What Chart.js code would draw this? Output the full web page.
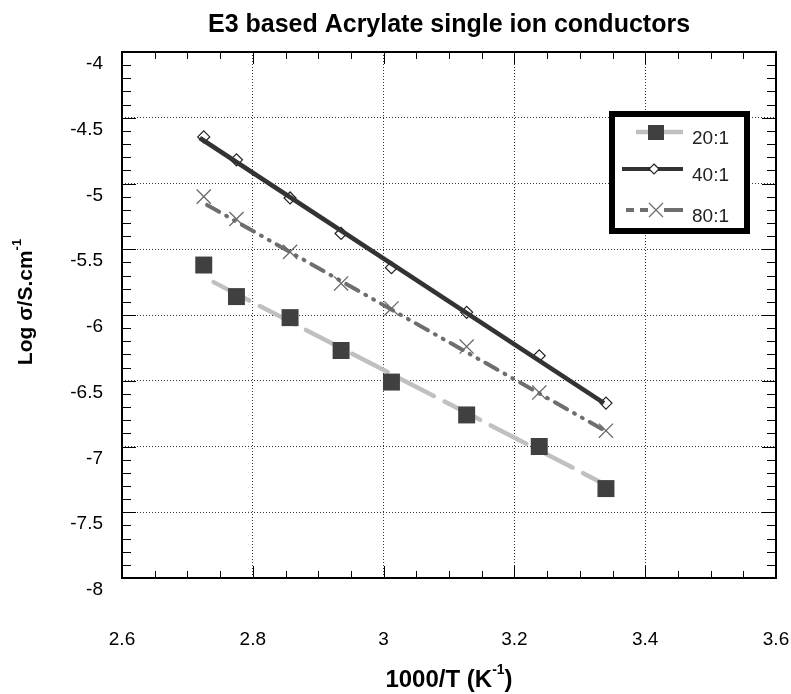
<!DOCTYPE html>
<html lang="en">
<head>
<meta charset="UTF-8" />
<title>E3 based Acrylate single ion conductors</title>
<style>
  html, body { margin: 0; padding: 0; background: #fff; }
  #wrap { width: 791px; height: 694px; }
</style>
</head>
<body>
<div id="wrap"><canvas id="chart" width="791" height="694"></canvas></div>

<script src="https://cdn.jsdelivr.net/npm/chart.js"></script>
<script>
  // values
  const invTemp = [2.725, 2.775, 2.857, 2.935, 3.012, 3.127, 3.238, 3.34];
  const logSigma20 = [-5.62, -5.86, -6.02, -6.27, -6.51, -6.76, -7.00, -7.32];
  const logSigma40 = [-4.646, -4.82, -5.11, -5.38, -5.64, -5.98, -6.31, -6.67];
  const logSigma80 = [-5.10, -5.27, -5.52, -5.76, -5.95, -6.24, -6.59, -6.88];

  // straight trend lines drawn through each set (end points)
  const fitX20 = [2.74, 3.343], fitY20 = [-5.75, -7.30];
  const fitX40 = [2.719, 3.337], fitY40 = [-4.654, -6.67];
  const fitX80 = [2.730, 3.342], fitY80 = [-5.163, -6.89];

  const seriesNames = ['20:1', '40:1', '80:1'];
  const xTicks = [2.6, 3.6, 0.2, 0.05];   // min, max, major step, minor step
  const yTicks = [-8, -4, 0.5, 0.1];

  const FONT = "'Liberation Sans', Arial, Helvetica, sans-serif";
  Chart.defaults.font.family = FONT;

  const toPts = (xs, ys) => xs.map((x, i) => ({ x: x, y: ys[i] }));
  const fmt = v => String(+v.toFixed(2));

  const dash20 = [40, 12];
  const dash80 = [14, 8, 1, 8, 1, 8];

  // draws text with superscript parts, centred on (0,0) of the current transform
  function drawSupText(ctx, parts, size) {
    const big = 'bold ' + size + 'px ' + FONT;
    const small = 'bold ' + Math.round(size * 0.6) + 'px ' + FONT;
    let total = 0;
    parts.forEach(p => { ctx.font = p[1] ? small : big; total += ctx.measureText(p[0]).width; });
    let cx = -total / 2;
    ctx.textAlign = 'left';
    ctx.textBaseline = 'middle';
    parts.forEach(p => {
      ctx.font = p[1] ? small : big;
      ctx.fillText(p[0], cx, p[1] ? -size * 0.4 : 0);
      cx += ctx.measureText(p[0]).width;
    });
  }

  const framePlugin = {
    id: 'frame',
    afterDatasetsDraw(chart) {
      const { ctx, chartArea: a, scales: { x, y } } = chart;
      ctx.save();
      ctx.strokeStyle = '#000';
      ctx.lineWidth = 1;
      ctx.beginPath();
      const nx = Math.round((xTicks[1] - xTicks[0]) / xTicks[3]);
      for (let i = 0; i <= nx; i++) {
        const px = Math.round(x.getPixelForValue(xTicks[0] + i * xTicks[3])) + 0.5;
        const len = i % 4 === 0 ? 12 : 7;
        ctx.moveTo(px, a.bottom); ctx.lineTo(px, a.bottom - len);
        ctx.moveTo(px, a.top); ctx.lineTo(px, a.top + len);
      }
      const ny = Math.round((yTicks[1] - yTicks[0]) / yTicks[3]);
      for (let i = 0; i <= ny; i++) {
        const py = Math.round(y.getPixelForValue(yTicks[0] + i * yTicks[3])) + 0.5;
        const len = i % 5 === 0 ? 14 : 9;
        ctx.moveTo(a.left, py); ctx.lineTo(a.left + len, py);
        ctx.moveTo(a.right, py); ctx.lineTo(a.right - len, py);
      }
      ctx.stroke();
      ctx.lineWidth = 2;
      ctx.strokeRect(a.left, a.top, a.right - a.left, a.bottom - a.top);
      ctx.restore();
    },
    afterDraw(chart) {
      const { ctx, chartArea: a } = chart;
      ctx.save();
      ctx.fillStyle = '#000';

      // chart title, centred over the plot area
      ctx.font = 'bold 25px ' + FONT;
      ctx.textAlign = 'center';
      ctx.textBaseline = 'middle';
      ctx.fillText('E3 based Acrylate single ion conductors', (a.left + a.right) / 2, 25);

      // axis titles
      ctx.save();
      ctx.translate((a.left + a.right) / 2, 680);
      drawSupText(ctx, [['1000/T (K', false], ['-1', true], [')', false]], 24);
      ctx.restore();

      ctx.save();
      ctx.translate(26, 302);
      ctx.rotate(-Math.PI / 2);
      drawSupText(ctx, [['Log \u03c3/S.cm', false], ['-1', true]], 21);
      ctx.restore();

      // legend box
      const L = 609, T = 111, R = 750, B = 234;
      ctx.fillStyle = '#fff';
      ctx.fillRect(L, T, R - L, B - T);
      ctx.strokeStyle = '#000';
      ctx.lineWidth = 6;
      ctx.strokeRect(L + 3, T + 3, R - L - 6, B - T - 6);

      const rows = [132, 169, 210];
      const x0 = 636, x1 = 683, mx = 656;

      // 20:1
      ctx.lineWidth = 4.5;
      ctx.strokeStyle = '#c0c0c0';
      ctx.beginPath(); ctx.moveTo(x0, rows[0]); ctx.lineTo(x1, rows[0]); ctx.stroke();
      ctx.fillStyle = '#404040';
      ctx.fillRect(mx - 8, rows[0] - 7, 16, 15);

      // 40:1
      ctx.strokeStyle = '#333';
      ctx.lineWidth = 4;
      ctx.beginPath(); ctx.moveTo(x0 - 14, rows[1]); ctx.lineTo(x1, rows[1]); ctx.stroke();
      ctx.fillStyle = '#fff';
      ctx.strokeStyle = '#222';
      ctx.lineWidth = 1.2;
      ctx.beginPath();
      ctx.moveTo(mx - 2, rows[1] - 5); ctx.lineTo(mx + 3, rows[1]);
      ctx.lineTo(mx - 2, rows[1] + 5); ctx.lineTo(mx - 7, rows[1]); ctx.closePath();
      ctx.fill(); ctx.stroke();

      // 80:1
      ctx.strokeStyle = '#6e6e6e';
      ctx.lineWidth = 4;
      ctx.setLineDash([8, 6]);
      ctx.beginPath(); ctx.moveTo(x0 - 10, rows[2]); ctx.lineTo(mx - 6, rows[2]); ctx.stroke();
      ctx.setLineDash([]);
      ctx.beginPath(); ctx.moveTo(mx + 8, rows[2]); ctx.lineTo(x1, rows[2]); ctx.stroke();
      ctx.lineWidth = 1.3;
      ctx.beginPath();
      ctx.moveTo(mx - 7, rows[2] - 7); ctx.lineTo(mx + 7, rows[2] + 7);
      ctx.moveTo(mx - 7, rows[2] + 7); ctx.lineTo(mx + 7, rows[2] - 7);
      ctx.stroke();

      ctx.fillStyle = '#222';
      ctx.font = '19px ' + FONT;
      ctx.textAlign = 'left';
      ctx.textBaseline = 'middle';
      seriesNames.forEach((n, i) => ctx.fillText(n, 692, rows[i] + 7));
      ctx.restore();
    }
  };

  const isEdge = (v, t) => Math.abs(v - t[0]) < 1e-6 || Math.abs(v - t[1]) < 1e-6;

  new Chart(document.getElementById('chart'), {
    type: 'scatter',
    data: {
      datasets: [
        {
          label: seriesNames[0],
          data: toPts(invTemp, logSigma20),
          pointStyle: 'rect', pointRadius: 12,
          pointBackgroundColor: '#404040', pointBorderColor: '#404040', pointBorderWidth: 0,
          showLine: false, order: 1
        },
        {
          label: seriesNames[0] + ' line',
          data: toPts(fitX20, fitY20),
          showLine: true, pointRadius: 0,
          borderColor: '#c0c0c0', borderWidth: 4.5, borderDash: dash20, borderCapStyle: 'round',
          order: 6
        },
        {
          label: seriesNames[1],
          data: toPts(invTemp, logSigma40),
          pointStyle: 'rectRot', pointRadius: 6,
          pointBackgroundColor: '#fff', pointBorderColor: '#222', pointBorderWidth: 1.2,
          showLine: false, order: 4
        },
        {
          label: seriesNames[1] + ' line',
          data: toPts(fitX40, fitY40),
          showLine: true, pointRadius: 0,
          borderColor: '#333', borderWidth: 4.5,
          order: 2
        },
        {
          label: seriesNames[2],
          data: toPts(invTemp, logSigma80),
          pointStyle: 'crossRot', pointRadius: 10,
          pointBorderColor: '#6a6a6a', pointBorderWidth: 1.3,
          showLine: false, order: 3
        },
        {
          label: seriesNames[2] + ' line',
          data: toPts(fitX80, fitY80),
          showLine: true, pointRadius: 0,
          borderColor: '#6e6e6e', borderWidth: 4, borderDash: dash80, borderCapStyle: 'round',
          order: 5
        }
      ]
    },
    options: {
      responsive: false,
      animation: false,
      layout: { padding: { top: 52, right: 15, left: 0, bottom: 0 } },
      plugins: { legend: { display: false }, tooltip: { enabled: false }, title: { display: false } },
      scales: {
        x: {
          type: 'linear', min: xTicks[0], max: xTicks[1],
          afterFit(s) { s.height = 116; },
          border: { display: false, dash: [1, 2] },
          grid: {
            drawTicks: true, tickLength: 50, tickColor: 'rgba(0,0,0,0)',
            color: c => isEdge(c.tick.value, xTicks) ? 'rgba(0,0,0,0)' : '#333',
            lineWidth: 1
          },
          ticks: { stepSize: xTicks[2], padding: 0, color: '#000', font: { size: 19 }, maxRotation: 0, callback: fmt }
        },
        y: {
          type: 'linear', min: yTicks[0], max: yTicks[1],
          afterFit(s) { s.width = 122; },
          border: { display: false, dash: [1, 2] },
          grid: {
            drawTicks: true, tickLength: 19, tickColor: 'rgba(0,0,0,0)',
            color: c => isEdge(c.tick.value, yTicks) ? 'rgba(0,0,0,0)' : '#333',
            lineWidth: 1
          },
          ticks: { stepSize: yTicks[2], padding: 0, labelOffset: 12, color: '#000', font: { size: 19 }, callback: fmt }
        }
      }
    },
    plugins: [framePlugin]
  });
</script>
</body>
</html>
